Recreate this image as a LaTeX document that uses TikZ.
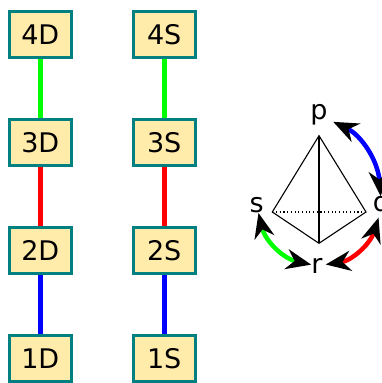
\documentclass[tikz,border=0pt]{standalone}
\usepackage{xcolor}
\usepackage{fontspec}
\setmainfont{DejaVu Sans}
\usetikzlibrary{arrows.meta,positioning}
\definecolor{boxteal}{RGB}{0,128,128}
\definecolor{boxcream}{RGB}{255,235,170}

\begin{document}
\begin{tikzpicture}[
  x=1pt, y=-1pt,
  node distance=59pt and 59pt,
  orbital/.style={rectangle, draw=boxteal, line width=3pt, fill=boxcream, minimum width=62pt, minimum height=46pt, inner sep=0pt, align=center, font=\fontsize{27}{27}\selectfont},
  letter/.style={inner sep=0pt, font=\fontsize{27}{27}\selectfont},
  bond/.style={line width=4.7pt},
  lobe/.style={line width=4.5pt, {Stealth[black,length=25pt,width=20pt,inset=8pt]}-{Stealth[black,length=25pt,width=20pt,inset=8pt]}},
  edge/.style={line width=1.1pt}
]
\useasboundingbox (0,0) rectangle (382,383);

\node[orbital] (d4) at (40.3,34.8) {4D};
\node[orbital, below=of d4] (d3) {3D};
\node[orbital, below=of d3] (d2) {2D};
\node[orbital, below=of d2] (d1) {1D};
\node[orbital] (s4) at (164.2,34.8) {4S};
\node[orbital, below=of s4] (s3) {3S};
\node[orbital, below=of s3] (s2) {2S};
\node[orbital, below=of s2] (s1) {1S};

\draw[bond, green] (d4) -- (d3);
\draw[bond, red] (d3) -- (d2);
\draw[bond, blue] (d2) -- (d1);
\draw[bond, green] (s4) -- (s3);
\draw[bond, red] (s3) -- (s2);
\draw[bond, blue] (s2) -- (s1);

\coordinate (apex) at (319,135.7);
\coordinate (left) at (272.3,212);
\coordinate (right) at (366,212);
\coordinate (front) at (319,243.3);

\draw[edge] (left) -- (apex) -- (right) -- (front) -- cycle;
\draw[edge] (apex) -- (front);
\draw[edge, dash pattern=on 1.1pt off 2.6pt] (left) -- (right);

\node[letter] (p) at (319,115) {p};
\node[letter] (s) at (256.7,205) {s};
\node[letter] (q) at (381.5,207) {q};
\node[letter] (r) at (317,266) {r};

\draw[lobe, blue, shorten >=6pt] (q) to[bend right=30] (p);
\draw[lobe, red, shorten <=3pt] (r) to[bend right=32] (q);
\draw[lobe, green] (s) to[bend right=32] (r);
\end{tikzpicture}
\end{document}
